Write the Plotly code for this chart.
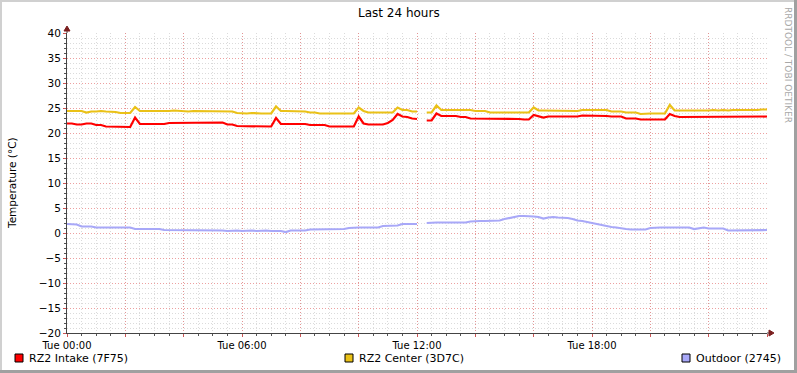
import pandas as pd
import plotly.graph_objects as go

W, H = 797, 373
L, R, T, B = 67, 767, 33, 333  # plot area pixel box

start = "2024-01-02 00:00"  # a Tuesday
times = pd.date_range(start, periods=145, freq="10min")

intake = [
    21.9, 21.9, 21.7, 21.7, 21.9, 21.9, 21.6, 21.6, 21.3, 21.3, 21.3, 21.3,
    21.3, 21.2, 23.1, 21.8, 21.8, 21.8, 21.8, 21.8, 21.8, 22.0, 22.0, 22.0,
    22.0, 22.0, 22.0, 22.0, 22.0, 22.1, 22.1, 22.1, 22.1, 21.7, 21.7, 21.4,
    21.4, 21.4, 21.4, 21.4, 21.4, 21.3, 21.3, 23.0, 21.8, 21.8, 21.8, 21.8,
    21.8, 21.8, 21.6, 21.6, 21.6, 21.6, 21.3, 21.3, 21.3, 21.3, 21.3, 21.3,
    23.3, 21.9, 21.7, 21.7, 21.7, 21.7, 22.0, 22.6, 23.8, 23.3, 23.2, 22.9,
    22.8, None, 22.5, 22.5, 23.9, 23.4, 23.4, 23.4, 23.4, 23.2, 23.2, 22.9,
    22.9, 22.9, 22.9, 22.9, 22.9, 22.9, 22.9, 22.9, 22.9, 22.8, 22.7, 22.7,
    23.6, 23.3, 23.1, 23.3, 23.3, 23.3, 23.3, 23.3, 23.3, 23.3, 23.5, 23.5,
    23.4, 23.5, 23.5, 23.4, 23.3, 23.3, 23.3, 22.9, 22.9, 22.9, 22.7, 22.7,
    22.7, 22.7, 22.7, 22.7, 23.8, 23.4, 23.2, 23.2, 23.3, 23.3, 23.3, 23.3,
    23.3, 23.3, 23.3, 23.3, 23.3, 23.3, 23.3, 23.3, 23.3, 23.3, 23.3, 23.3,
    23.3,
]

center = [
    24.4, 24.4, 24.3, 24.4, 24.1, 24.3, 24.3, 24.4, 24.3, 24.3, 24.2, 24.0,
    24.0, 24.0, 25.2, 24.4, 24.4, 24.4, 24.3, 24.4, 24.4, 24.4, 24.5, 24.4,
    24.4, 24.3, 24.4, 24.4, 24.4, 24.4, 24.4, 24.4, 24.4, 24.4, 24.3, 24.0,
    23.9, 23.9, 24.0, 23.9, 23.9, 23.9, 23.9, 25.3, 24.4, 24.4, 24.4, 24.3,
    24.4, 24.3, 24.1, 24.1, 23.9, 23.9, 23.9, 23.9, 23.9, 23.9, 23.9, 23.9,
    25.1, 24.4, 24.1, 24.1, 24.1, 24.1, 24.1, 24.1, 25.1, 24.6, 24.6, 24.3,
    24.3, None, 24.1, 24.1, 25.5, 24.6, 24.6, 24.6, 24.5, 24.6, 24.6, 24.6,
    24.4, 24.4, 24.4, 24.1, 24.1, 24.2, 24.1, 24.1, 24.2, 24.1, 24.1, 24.1,
    25.1, 24.5, 24.5, 24.5, 24.5, 24.5, 24.5, 24.5, 24.5, 24.4, 24.6, 24.6,
    24.6, 24.6, 24.6, 24.6, 24.3, 24.3, 24.3, 24.1, 24.1, 24.1, 23.8, 23.9,
    23.9, 23.9, 23.9, 23.9, 25.6, 24.5, 24.5, 24.5, 24.4, 24.5, 24.5, 24.4,
    24.5, 24.6, 24.5, 24.6, 24.5, 24.6, 24.6, 24.5, 24.6, 24.5, 24.6, 24.7,
    24.7,
]

outdoor = [
    1.8, 1.8, 1.7, 1.3, 1.3, 1.3, 1.1, 1.1, 1.1, 1.1, 1.2, 1.1,
    1.1, 1.1, 0.8, 0.8, 0.8, 0.8, 0.8, 0.8, 0.6, 0.6, 0.6, 0.6,
    0.6, 0.6, 0.6, 0.6, 0.5, 0.5, 0.5, 0.5, 0.5, 0.4, 0.5, 0.5,
    0.4, 0.5, 0.5, 0.4, 0.5, 0.5, 0.4, 0.4, 0.4, 0.2, 0.5, 0.5,
    0.5, 0.5, 0.7, 0.7, 0.8, 0.7, 0.8, 0.8, 0.8, 0.8, 1.0, 1.1,
    1.1, 1.1, 1.1, 1.1, 1.1, 1.4, 1.4, 1.4, 1.5, 1.8, 1.8, 1.8,
    1.8, None, 2.0, 2.1, 2.1, 2.1, 2.1, 2.1, 2.1, 2.1, 2.1, 2.3,
    2.4, 2.4, 2.4, 2.4, 2.5, 2.5, 2.8, 3.0, 3.3, 3.4, 3.4, 3.4,
    3.3, 3.2, 2.9, 3.1, 3.2, 3.1, 3.1, 3.0, 2.8, 2.5, 2.4, 2.2,
    1.9, 1.8, 1.6, 1.3, 1.2, 1.1, 0.9, 0.8, 0.7, 0.7, 0.7, 0.7,
    1.0, 1.1, 1.1, 1.1, 1.1, 1.2, 1.1, 1.1, 1.1, 0.8, 1.0, 1.1,
    0.9, 0.9, 0.9, 0.9, 0.5, 0.5, 0.5, 0.5, 0.6, 0.6, 0.6, 0.6,
    0.6,
]

series_names = ["RZ2 Intake (7F75)", "RZ2 Center (3D7C)", "Outdoor (2745)"]
series_colors = ["#FF0000", "#EAC117", "#A8A8F8"]
series_values = [intake, center, outdoor]

x_tick_vals = pd.date_range(start, periods=13, freq="2h")
x_tick_text = ["Tue 00:00", "", "", "Tue 06:00", "", "", "Tue 12:00", "", "",
               "Tue 18:00", "", "", ""]

title_text = "Last 24 hours"
y_title = "Temperature (°C)"
watermark = "RRDTOOL / TOBI OETIKER"

FONT = "DejaVu Sans"


def px(x):
    return (x - L) / (R - L)


def py(y):
    return (B - y) / (B - T)


fig = go.Figure()
for name, color, vals in zip(series_names, series_colors, series_values):
    fig.add_trace(go.Scatter(x=times, y=vals, mode="lines", name=name,
                             line=dict(color=color, width=2.2),
                             connectgaps=False, showlegend=False))

fig.update_layout(
    width=W, height=H,
    margin=dict(l=L, r=W - R, t=T, b=H - B, pad=0),
    paper_bgcolor="white", plot_bgcolor="white",
    font=dict(family=FONT, size=10, color="#000000"),
    showlegend=False,
)

fig.update_xaxes(
    type="date",
    range=[times[0], times[0] + pd.Timedelta(hours=24)],
    tickmode="array", tickvals=x_tick_vals, ticktext=x_tick_text,
    showgrid=True, gridcolor="rgba(230,120,120,0.7)", griddash="1px,2px", gridwidth=1,
    minor=dict(dtick=30 * 60 * 1000, showgrid=True, gridcolor="rgba(175,175,175,0.45)",
               griddash="1px,2px", ticks="outside", ticklen=2, tickcolor="#555"),
    showline=True, linecolor="#444", linewidth=1,
    ticks="outside", ticklen=3, tickcolor="#c55",
    tickfont=dict(family=FONT, size=10),
    zeroline=False, fixedrange=True,
)

fig.update_yaxes(
    range=[-20, 40], dtick=5, tick0=0,
    showgrid=True, gridcolor="rgba(230,120,120,0.7)", griddash="1px,2px", gridwidth=1,
    minor=dict(dtick=1, showgrid=True, gridcolor="rgba(175,175,175,0.45)",
               griddash="1px,2px", ticks="outside", ticklen=2, tickcolor="#555"),
    showline=True, linecolor="#444", linewidth=1,
    ticks="outside", ticklen=3, tickcolor="#c55",
    tickfont=dict(family=FONT, size=10.5),
    zeroline=False, fixedrange=True,
)

shapes = []
# frame around canvas
shapes.append(dict(type="rect", xref="paper", yref="paper", layer="above",
                   x0=px(0), x1=px(2), y0=py(0), y1=py(H), line=dict(width=0), fillcolor="#D0D0D0"))
shapes.append(dict(type="rect", xref="paper", yref="paper", layer="above",
                   x0=px(0), x1=px(W), y0=py(0), y1=py(2), line=dict(width=0), fillcolor="#D0D0D0"))
shapes.append(dict(type="rect", xref="paper", yref="paper", layer="above",
                   x0=px(W - 3), x1=px(W), y0=py(0), y1=py(H), line=dict(width=0), fillcolor="#A0A0A0"))
shapes.append(dict(type="rect", xref="paper", yref="paper", layer="above",
                   x0=px(0), x1=px(W), y0=py(H - 3), y1=py(H), line=dict(width=0), fillcolor="#A0A0A0"))
# axis extensions and arrows
shapes.append(dict(type="line", xref="paper", yref="paper", layer="above",
                   x0=px(L), x1=px(L), y0=py(T), y1=py(T - 4), line=dict(color="#444", width=1)))
shapes.append(dict(type="path", xref="paper", yref="paper", layer="above",
                   path=f"M {px(L-3)},{py(T-2)} L {px(L+3)},{py(T-2)} L {px(L)},{py(T-7)} Z",
                   fillcolor="#7A1F1F", line=dict(color="#7A1F1F", width=1)))
shapes.append(dict(type="line", xref="paper", yref="paper", layer="above",
                   x0=px(R), x1=px(R + 3), y0=py(B), y1=py(B), line=dict(color="#444", width=1)))
shapes.append(dict(type="path", xref="paper", yref="paper", layer="above",
                   path=f"M {px(R+2)},{py(B-3)} L {px(R+2)},{py(B+3)} L {px(R+7)},{py(B)} Z",
                   fillcolor="#7A1F1F", line=dict(color="#7A1F1F", width=1)))

annotations = [
    dict(text=title_text, xref="paper", yref="paper", x=px(W / 2), y=py(13),
         xanchor="center", yanchor="middle", showarrow=False,
         font=dict(family=FONT, size=12, color="#000")),
    dict(text=y_title, xref="paper", yref="paper", x=px(12), y=py(183),
         xanchor="center", yanchor="middle", textangle=-90, showarrow=False,
         font=dict(family=FONT, size=10.5, color="#000")),
    dict(text=watermark, xref="paper", yref="paper", x=px(788), y=py(5),
         xanchor="center", yanchor="top", textangle=90, showarrow=False,
         font=dict(family=FONT, size=9, color="#A8A8A8")),
]

legend_x = [15, 345, 682]
for lx, name, color in zip(legend_x, series_names, series_colors):
    shapes.append(dict(type="rect", xref="paper", yref="paper", layer="above",
                       x0=px(lx), x1=px(lx + 8), y0=py(354), y1=py(362),
                       fillcolor=color, line=dict(color="#000", width=1)))
    annotations.append(dict(text=name, xref="paper", yref="paper", x=px(lx + 12), y=py(358),
                            xanchor="left", yanchor="middle", showarrow=False,
                            font=dict(family=FONT, size=11, color="#000")))

fig.update_layout(shapes=shapes, annotations=annotations)

fig.write_html("out.html",
               config={"displayModeBar": False, "staticPlot": True},
               post_script="document.body.style.margin='0px';document.body.style.overflow='hidden';")
